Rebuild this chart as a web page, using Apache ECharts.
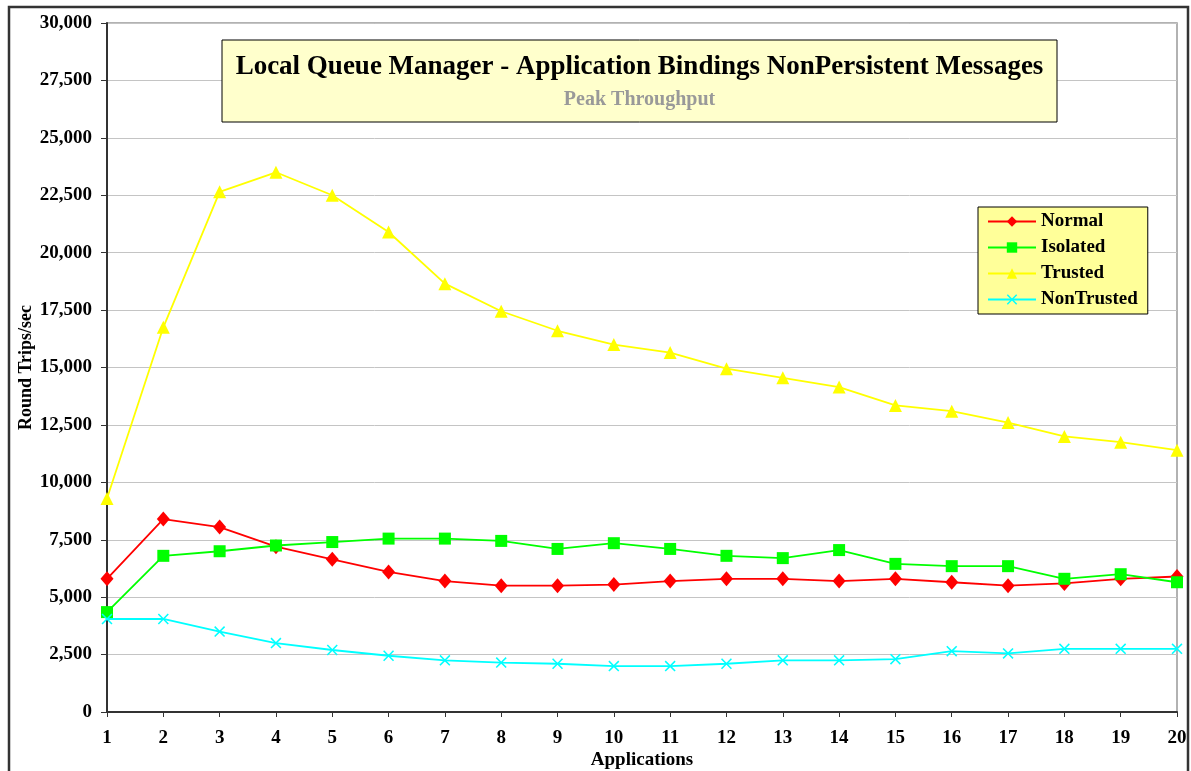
<!DOCTYPE html>
<html>
<head>
<meta charset="utf-8">
<script src="https://cdn.jsdelivr.net/npm/echarts@6/dist/echarts.min.js"></script>
<style>
  html, body { margin: 0; padding: 0; background: #fff; }
  #chart { width: 1191px; height: 771px; }
</style>
</head>
<body>
<div id="chart"></div>
<script>
// Number of applications along the x axis
const applications = ['1','2','3','4','5','6','7','8','9','10','11','12','13','14','15','16','17','18','19','20'];

// Round trips per second for each binding type
const normal     = [5800, 8400, 8050, 7200, 6650, 6100, 5700, 5500, 5500, 5550, 5700, 5800, 5800, 5700, 5800, 5650, 5500, 5600, 5800, 5900];
const isolated   = [4350, 6800, 7000, 7250, 7400, 7550, 7550, 7450, 7100, 7350, 7100, 6800, 6700, 7050, 6450, 6350, 6350, 5800, 6000, 5650];
const trusted    = [9300, 16750, 22650, 23500, 22500, 20900, 18650, 17450, 16600, 16000, 15650, 14950, 14550, 14150, 13350, 13100, 12600, 12000, 11750, 11400];
const nonTrusted = [4050, 4050, 3500, 3000, 2700, 2450, 2250, 2150, 2100, 2000, 2000, 2100, 2250, 2250, 2300, 2650, 2550, 2750, 2750, 2750];

const titleText = 'Local Queue Manager - Application Bindings NonPersistent Messages';
const subtitleText = 'Peak Throughput';

const serif = '"Liberation Serif", "Times New Roman", serif';
const crossSymbol = 'path://M0,1L1,0L5,4L9,0L10,1L6,5L10,9L9,10L5,6L1,10L0,9L4,5Z';

function lineSeries(name, data, color, symbol, size) {
  return {
    name: name,
    type: 'line',
    data: data,
    symbol: symbol,
    symbolSize: size,
    showAllSymbol: true,
    lineStyle: { color: color, width: 1.8 },
    itemStyle: { color: color },
    emphasis: { disabled: true },
    animation: false
  };
}

const chart = echarts.init(document.getElementById('chart'));
chart.setOption({
  backgroundColor: '#ffffff',
  animation: false,
  grid: {
    left: 107, right: 14, top: 23, bottom: 59,
    containLabel: false,
    outerBoundsMode: 'none',
    show: true, borderColor: '#999999', borderWidth: 1.5, backgroundColor: 'transparent'
  },
  legend: {
    orient: 'vertical',
    left: 978, top: 207,
    backgroundColor: '#FFFF99',
    borderColor: '#000000', borderWidth: 1,
    padding: [5, 10, 5, 9],
    itemWidth: 48, itemHeight: 13, itemGap: 7,
    textStyle: { fontFamily: serif, fontWeight: 'bold', fontSize: 19, lineHeight: 18, color: '#000' },
    data: ['Normal', 'Isolated', 'Trusted', 'NonTrusted']
  },
  xAxis: {
    type: 'category',
    data: applications,
    boundaryGap: false,
    name: 'Applications',
    nameLocation: 'middle',
    nameGap: 39,
    nameMoveOverlap: false,
    nameTextStyle: { fontFamily: serif, fontWeight: 'bold', fontSize: 19, color: '#000' },
    axisLine: { lineStyle: { color: '#333333', width: 2 } },
    axisTick: { show: true, length: 5, alignWithLabel: true, lineStyle: { color: '#333333' } },
    axisLabel: { fontFamily: serif, fontWeight: 'bold', fontSize: 19, color: '#000', margin: 17, interval: 0 },
    splitLine: { show: false }
  },
  yAxis: {
    type: 'value',
    min: 0, max: 30000, interval: 2500,
    name: 'Round Trips/sec',
    nameLocation: 'middle',
    nameGap: 72,
    nameMoveOverlap: false,
    nameTextStyle: { fontFamily: serif, fontWeight: 'bold', fontSize: 18, color: '#000' },
    axisLine: { show: true, lineStyle: { color: '#333333', width: 2 } },
    axisTick: { show: true, length: 6, lineStyle: { color: '#333333' } },
    axisLabel: {
      fontFamily: serif, fontWeight: 'bold', fontSize: 19, color: '#000', margin: 15,
      formatter: function (v) { return v.toLocaleString('en-US'); }
    },
    splitLine: { show: true, lineStyle: { color: '#C4C4C4', width: 1 } }
  },
  series: [
    lineSeries('Normal', normal, '#FF0000', 'diamond', [13, 15]),
    lineSeries('Isolated', isolated, '#00FF00', 'rect', 12),
    lineSeries('Trusted', trusted, '#FFFF00', 'triangle', 13),
    lineSeries('NonTrusted', nonTrusted, '#00FFFF', crossSymbol, 11)
  ],
  graphic: [
    {
      type: 'rect',
      shape: { x: 9, y: 7, width: 1179, height: 775 },
      style: { fill: 'none', stroke: '#333333', lineWidth: 2.5 },
      silent: true, z: 100
    },
    {
      type: 'rect',
      shape: { x: 222, y: 40, width: 835, height: 82 },
      style: { fill: '#FFFFCC', stroke: '#000000', lineWidth: 1 },
      z: 50
    },
    {
      type: 'text',
      x: 639.5, y: 67,
      style: {
        text: titleText, fill: '#000',
        font: 'bold 27px ' + serif,
        textAlign: 'center', textVerticalAlign: 'middle'
      },
      z: 51
    },
    {
      type: 'text',
      x: 639.5, y: 100,
      style: {
        text: subtitleText, fill: '#999999',
        font: 'bold 20px ' + serif,
        textAlign: 'center', textVerticalAlign: 'middle'
      },
      z: 51
    }
  ]
});
</script>
</body>
</html>
